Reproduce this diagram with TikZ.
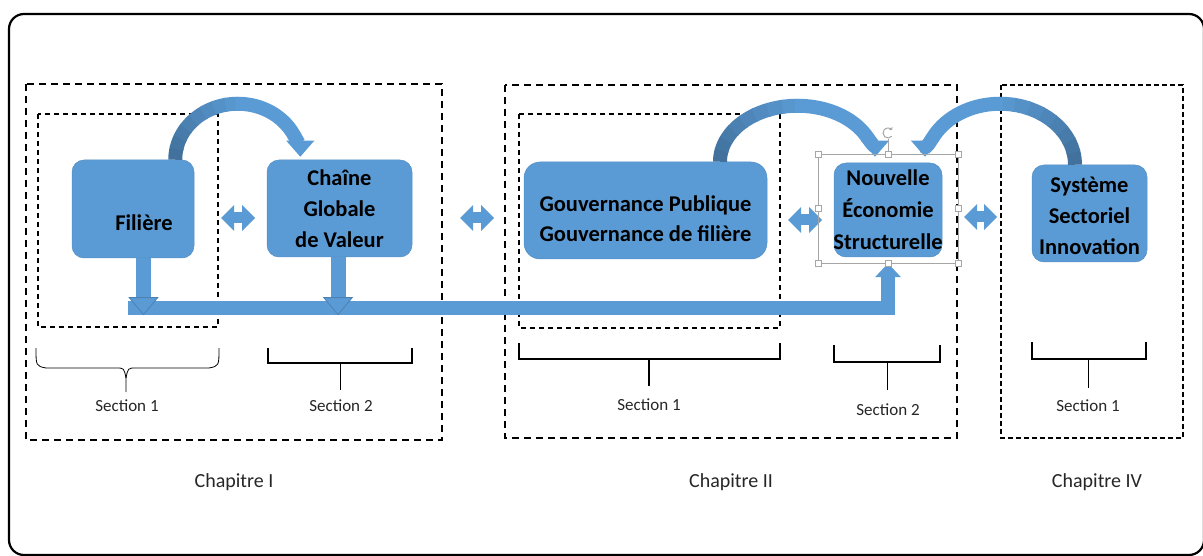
\documentclass[tikz,border=0pt]{standalone}
\usepackage{fontspec}
\setmainfont{Carlito}
\usetikzlibrary{arrows.meta,positioning}

\definecolor{bleu}{HTML}{5B9BD5}
\definecolor{bleufonce}{HTML}{41719C}
\definecolor{poignee}{HTML}{A6A6A6}

\begin{document}
\begin{tikzpicture}[x=1pt,y=-1pt,
  bloc/.style={rectangle,rounded corners=12pt,fill=bleu,draw=bleu!92!black,line width=0.5pt,inner sep=0pt},
  titre/.style={font=\bfseries\fontsize{22.5}{31}\selectfont,align=center},
  sect/.style={font=\fontsize{17}{20}\selectfont,text=black!85},
  chap/.style={font=\fontsize{20}{24}\selectfont,text=black!85},
  cadre/.style={dash pattern=on 7pt off 5pt,line width=1.6pt},
  cadrein/.style={dash pattern=on 5pt off 4pt,line width=1.2pt},
  dbl/.style={bleu,line width=11pt,{Triangle[width=26pt,length=13pt,line width=0pt]}-{Triangle[width=26pt,length=13pt,line width=0pt]}},
  courbe/.style={line width=14pt},
  pointe/.style={-{Triangle[width=28pt,length=16pt,line width=0pt]}},
  barre/.style={bleu,line width=14pt,-{Triangle[width=26pt,length=14pt,line width=0pt]}},
  descente/.style={bleu,line width=15pt,-{Triangle[width=30pt,length=18pt,line width=0.8pt,color=bleufonce!60!bleu,fill=bleu]}}]
\useasboundingbox (0,0) rectangle (1203,556);
\draw[line width=2.2pt,rounded corners=15pt] (9,14) rectangle (1204,555);

% cadres des chapitres et sections
\draw[cadre] (26,84) rectangle (442,440);
\draw[cadrein] (38,114) rectangle (218,327);
\draw[cadre] (505,85) rectangle (957,438);
\draw[cadrein] (519,114) rectangle (780,328);
\draw[dash pattern=on 5pt off 3pt,line width=1.6pt] (1001,85) rectangle (1183,438);

% blocs
\node[bloc,minimum width=122pt,minimum height=98pt] (fil) at (133,209) {};
\node[titre] (tfil) at ([shift={(11,14)}]fil.center) {Filière};
\node[bloc,minimum width=145pt,minimum height=97pt] (cgv) at (339.5,208.5) {};
\node[titre] (tcgv) at (cgv.center) {Chaîne\\Globale\\de Valeur};
\node[bloc,rounded corners=16pt,minimum width=243pt,minimum height=97pt] (gouv) at (645.5,210.5) {};
\node[titre,font=\bfseries\fontsize{22.5}{30}\selectfont] (tgouv) at ([shift={(0,8)}]gouv.center) {Gouvernance Publique\\Gouvernance de filière};
\node[bloc,minimum width=108pt,minimum height=94pt] (nes) at (888,210) {};
\node[titre,font=\bfseries\fontsize{22.5}{32}\selectfont] (tnes) at (nes.center) {Nouvelle\\Économie\\Structurelle};
\node[bloc,minimum width=115pt,minimum height=97pt] (ssi) at (1089.5,213.5) {};
\node[titre] (tssi) at ([shift={(0,2.5)}]ssi.center) {Système\\Sectoriel\\Innovation};

% doubles fleches
\coordinate (da1) at (221,218);
\coordinate (db1) at (255,218);
\coordinate (da2) at (460,218);
\coordinate (db2) at (494,218);
\coordinate (da3) at (788,220);
\coordinate (db3) at (822,220);
\coordinate (da4) at (964,217);
\coordinate (db4) at (997,217);
\draw[dbl] (da1) -- (db1);
\draw[dbl] (da2) -- (db2);
\draw[dbl] (da3) -- (db3);
\draw[dbl] (da4) -- (db4);

% fleches courbes (degrade fonce -> clair)
\coordinate (cfc) at ([xshift=43.5pt]fil.north east);
\coordinate (cgn) at ([xshift=152pt]gouv.north);
\coordinate (csn) at ([xshift=-89.5pt]ssi.north);
\foreach \i [evaluate=\i as \t using 100-12.5*\i, evaluate=\i as \a using 180+11.25*\i] in {0,...,7}{
  \draw[courbe,bleufonce!\t!bleu] ([shift={(\a:62.5 and 56)}]cfc) arc[start angle=\a,delta angle=12.5,x radius=62.5,y radius=56];
  \draw[courbe,bleufonce!\t!bleu] ([shift={(\a:77.5 and 56)}]cgn) arc[start angle=\a,delta angle=12.5,x radius=77.5,y radius=56];
}
\foreach \i [evaluate=\i as \t using 100-12.5*\i, evaluate=\i as \a using -11.25*\i] in {0,...,7}
  \draw[courbe,bleufonce!\t!bleu] ([shift={(\a:75 and 61)}]csn) arc[start angle=\a,delta angle=-12.5,x radius=75,y radius=61];
\draw[courbe,bleu,pointe,shorten >=3pt] ([shift={(268:62.5 and 56)}]cfc) arc[start angle=268,end angle=360,x radius=62.5,y radius=56];
\draw[courbe,bleu,pointe,shorten >=5pt] ([shift={(268:77.5 and 56)}]cgn) arc[start angle=268,end angle=360,x radius=77.5,y radius=56];
\draw[courbe,bleu,pointe,shorten >=8pt] ([shift={(-88:75 and 61)}]csn) arc[start angle=-88,end angle=-180,x radius=75,y radius=61];

% barre du bas
\coordinate (barg) at (128,308);
\draw[barre] (barg) -| ([yshift=-6pt]nes.south);
\draw[descente] ([xshift=10.5pt]fil.south) -- ++(0,57);
\draw[descente] ([xshift=-1.5pt]cgv.south) -- ++(0,58);

% cadre de selection
\draw[poignee,line width=0.6pt] (818,154) rectangle (958,263);
\draw[poignee,line width=0.6pt] (888,154) -- (888,139);
\draw[poignee,line width=1pt,-{To[length=2pt]}] ([shift={(40:5)}]888,133) arc[start angle=40,end angle=320,radius=5];
\foreach \p in {(818,154),(888,154),(958,154),(818,208.5),(958,208.5),(818,263),(888,263),(958,263)}
  \draw[poignee,fill=white,line width=0.6pt] \p +(-3,-3) rectangle +(3,3);

% accolades
\draw[line width=0.8pt] (36,348) .. controls (36,366) .. (46,368) -- (116,368) .. controls (124,368) .. (126,378) -- (126,392);
\draw[line width=0.8pt] (219,348) .. controls (219,366) .. (209,368) -- (136,368) .. controls (128,368) .. (126,378);
\draw[line width=2pt] (268,348) -- (268,363) -- (412,363) -- (412,348);
\draw[line width=1pt] (340,363) -- (340,390);
\draw[line width=2.2pt] (519,343) -- (519,359) -- (780,359) -- (780,343);
\draw[line width=1.3pt] (649,359) -- (649,386);
\draw[line width=1.8pt] (834,345) -- (834,362) -- (940,362) -- (940,345);
\draw[line width=1pt] (887,362) -- (887,390);
\draw[line width=2.2pt] (1032,342) -- (1032,359) -- (1146,359) -- (1146,342);
\draw[line width=1pt] (1088,359) -- (1088,388);

\node[sect] (s1a) at (127,406) {Section 1};
\node[sect] (s2a) at (341,406) {Section 2};
\node[sect] (s1b) at (649,405) {Section 1};
\node[sect] (s2b) at (888,410) {Section 2};
\node[sect] (s1c) at (1088,406) {Section 1};

\node[chap] (ch1) at (234,482) {Chapitre I};
\node[chap] (ch2) at (731,482) {Chapitre II};
\node[chap] (ch4) at (1097,482) {Chapitre IV};
\end{tikzpicture}
\end{document}
